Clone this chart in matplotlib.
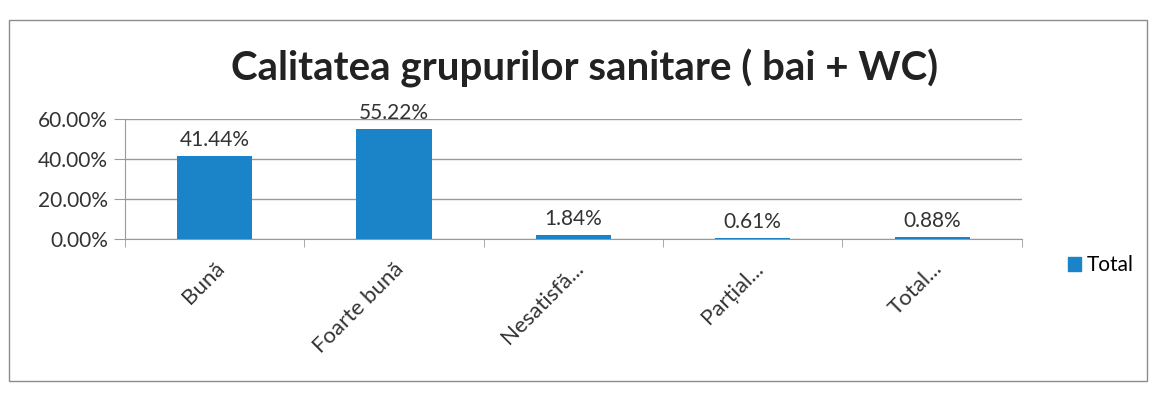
import matplotlib.pyplot as plt
from matplotlib.patches import Rectangle, Patch
from matplotlib.ticker import FuncFormatter

categories = ["Bună", "Foarte bună", "Nesatisfă...", "Parțial...", "Total..."]
values = [41.44, 55.22, 1.84, 0.61, 0.88]
yticks = [0, 20, 40, 60]

bar_color = "#1b84c8"
grid_color = "#9a9a9a"
plt.rcParams["font.family"] = ["Lato", "DejaVu Sans"]

fig = plt.figure(figsize=(11.56, 4.05), dpi=100)
# outer chart frame
fig.patches.append(Rectangle((0.008, 0.06), 0.984, 0.89, transform=fig.transFigure,
                             fill=False, edgecolor="#8c8c8c", linewidth=1.0))

ax = fig.add_axes([0.108, 0.41, 0.776, 0.295])
x = range(len(categories))
ax.bar(x, [v / 100 for v in values], width=0.42, color=bar_color, zorder=3)

for xi, v in zip(x, values):
    ax.text(xi, v / 100 + 0.03, f"{v:.2f}%", ha="center", va="bottom",
            fontsize=15, color="#333333")

ax.set_xlim(-0.5, len(categories) - 0.5)
ax.set_ylim(0, 0.6)
ax.set_yticks([t / 100 for t in yticks])
ax.yaxis.set_major_formatter(FuncFormatter(lambda v, p: f"{v * 100:.2f}%"))
ax.grid(axis="y", color=grid_color, linewidth=1.0, zorder=0)
ax.tick_params(axis="y", length=8, color=grid_color, labelsize=15, labelcolor="#333333", pad=4)

ax.set_xticks(list(x))
ax.set_xticklabels(categories, rotation=45, ha="right", rotation_mode="anchor",
                   fontsize=16, color="#333333")
ax.set_xticks([i - 0.5 for i in range(len(categories) + 1)], minor=True)
ax.tick_params(axis="x", which="major", length=0, pad=14)
ax.tick_params(axis="x", which="minor", length=6, color=grid_color)

for side in ["top", "right"]:
    ax.spines[side].set_visible(False)
ax.spines["left"].set_color(grid_color)
ax.spines["bottom"].set_color(grid_color)

fig.text(0.506, 0.83, "Calitatea grupurilor sanitare ( bai + WC)", ha="center",
         va="center", fontsize=29, fontweight="bold", color="#222222")

fig.legend(handles=[Patch(color=bar_color, label="Total")], loc="center left",
           bbox_to_anchor=(0.908, 0.345), frameon=False, fontsize=15,
           handlelength=0.6, handleheight=0.6, handletextpad=0.3)

fig.savefig("out.png", dpi=100)
